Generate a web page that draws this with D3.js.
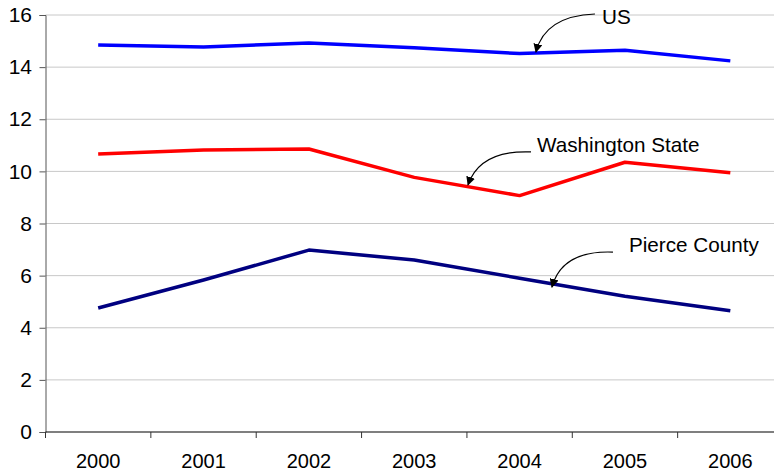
<!DOCTYPE html>
<html><head><meta charset="utf-8">
<script src="https://cdn.jsdelivr.net/npm/d3@7"></script>
<style>body{margin:0;background:#fff}svg{display:block}text{font-family:"Liberation Sans",Arial,sans-serif}</style>
</head><body><svg id="c" width="774" height="473"></svg>
<script>
const years = ["2000","2001","2002","2003","2004","2005","2006"];
const usValues = [14.85, 14.77, 14.93, 14.74, 14.52, 14.65, 14.24];
const waValues = [10.67, 10.82, 10.86, 9.77, 9.07, 10.35, 9.95];
const pierceValues = [4.76, 5.83, 6.98, 6.6, 5.9, 5.21, 4.65];
const yTicks = [0, 2, 4, 6, 8, 10, 12, 14, 16];
const seriesNames = ["US", "Washington State", "Pierce County"];
const seriesColors = ["#0000ff", "#ff0000", "#000080"];
// annotation anchors in data space (fractional category index, value)
const annoIndex = [4.155, 3.51, 4.307];
const annoValue = [14.58, 9.48, 5.56];

(function () {
const svg = d3.select("#c");
const pLeft = 45.5, pRight = 783, pTop = 15, pBottom = 432;
const xi = d3.scaleLinear().domain([-0.5, years.length - 0.5]).range([pLeft, pRight]);
const y = d3.scaleLinear().domain([0, 16]).range([pBottom, pTop]);

// gridlines
svg.append("g").selectAll("line").data(yTicks.filter(t => t > 0)).join("line")
  .attr("x1", pLeft).attr("x2", 774).attr("y1", d => y(d)).attr("y2", d => y(d))
  .attr("stroke", "#c8c8c8").attr("stroke-width", 1);

// y axis
const ya = svg.append("g").attr("transform", `translate(${pLeft},0)`)
  .call(d3.axisLeft(y).tickValues(yTicks).tickSize(6).tickPadding(7.5).tickFormat(d3.format("d")));
ya.select(".domain").attr("stroke", "#555");
ya.selectAll(".tick line").attr("stroke", "#555");
ya.selectAll("text").attr("font-size", 21).attr("fill", "#000").attr("font-family", "Liberation Sans, Arial, sans-serif");

// x axis with tick boundaries
const bounds = d3.range(years.length + 1).map(i => i - 0.5);
const xa = svg.append("g").attr("transform", `translate(0,${pBottom})`);
xa.append("line").attr("x1", pLeft).attr("x2", 774).attr("stroke", "#000").attr("stroke-width", 1.2);
xa.selectAll("line.t").data(bounds).join("line").attr("class", "t")
  .attr("x1", d => xi(d)).attr("x2", d => xi(d)).attr("y1", 0).attr("y2", 6)
  .attr("stroke", "#333");
xa.selectAll("text").data(years).join("text")
  .attr("x", (d, i) => xi(i)).attr("y", 36).attr("text-anchor", "middle")
  .attr("font-size", 20).attr("fill", "#000").text(d => d);

// lines
const all = [usValues, waValues, pierceValues];
const line = d3.line().x((d, i) => xi(i)).y(d => y(d));
svg.append("g").selectAll("path").data(all).join("path")
  .attr("d", line).attr("fill", "none")
  .attr("stroke", (d, i) => seriesColors[i]).attr("stroke-width", 3.5)
  .attr("stroke-linejoin", "round");

// annotations
const defs = svg.append("defs");
defs.append("marker").attr("id", "ah").attr("viewBox", "0 0 10 10").attr("refX", 9).attr("refY", 5)
  .attr("markerWidth", 9).attr("markerHeight", 9).attr("markerUnits", "userSpaceOnUse").attr("orient", "auto")
  .append("path").attr("d", "M0,0 L10,5 L0,10 z").attr("fill", "#000");
const annoOffsets = [
  {s: [59, -38], c: [9, -36], t: [66, -28]},
  {s: [63, -33], c: [12, -35], t: [69, -33]},
  {s: [61, -35], c: [10, -37], t: [77, -35]}
];
seriesNames.forEach((name, i) => {
  const tx = xi(annoIndex[i]), ty = y(annoValue[i]);
  const o = annoOffsets[i];
  svg.append("path")
    .attr("d", `M${tx + o.s[0]},${ty + o.s[1]} Q${tx + o.c[0]},${ty + o.c[1]} ${tx},${ty}`)
    .attr("fill", "none").attr("stroke", "#000").attr("stroke-width", 1.2).attr("marker-end", "url(#ah)");
  svg.append("text").attr("x", tx + o.t[0]).attr("y", ty + o.t[1])
    .attr("font-size", 20.7).attr("fill", "#000").text(name);
});
})();
</script></body></html>
